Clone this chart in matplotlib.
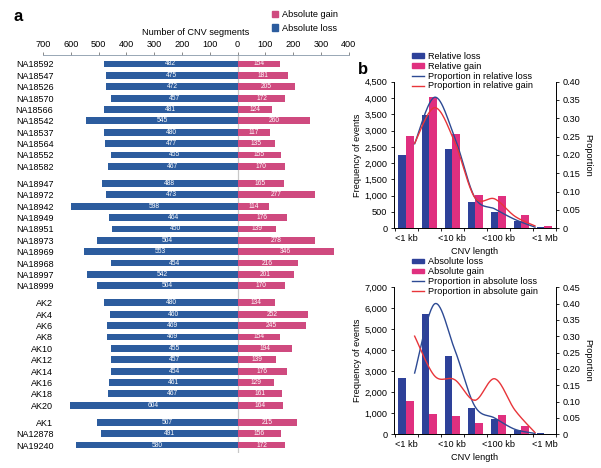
import numpy as np
import matplotlib
matplotlib.use('Agg')
import matplotlib.pyplot as plt
from matplotlib.patches import Patch
from matplotlib.lines import Line2D
from matplotlib.ticker import FuncFormatter

plt.rcParams['font.family'] = ['Liberation Sans', 'DejaVu Sans']
plt.rcParams['font.size'] = 6.3

# ---- panel a data ----
groups = [
    ['NA18592', 'NA18547', 'NA18526', 'NA18570', 'NA18566',
     'NA18542', 'NA18537', 'NA18564', 'NA18552', 'NA18582'],
    ['NA18947', 'NA18972', 'NA18942', 'NA18949', 'NA18951',
     'NA18973', 'NA18969', 'NA18968', 'NA18997', 'NA18999'],
    ['AK2', 'AK4', 'AK6', 'AK8', 'AK10', 'AK12', 'AK14', 'AK16', 'AK18', 'AK20'],
    ['AK1', 'NA12878', 'NA19240'],
]
abs_loss = [482, 475, 472, 457, 481, 545, 480, 477, 455, 467,
            488, 473, 598, 464, 450, 504, 553, 454, 542, 504,
            480, 460, 469, 469, 455, 457, 454, 461, 467, 604,
            507, 491, 580]
abs_gain = [154, 181, 205, 172, 124, 260, 117, 135, 155, 170,
            165, 277, 114, 176, 139, 278, 346, 216, 201, 170,
            134, 252, 245, 154, 194, 139, 176, 129, 161, 164,
            215, 156, 172]

# ---- panel b data ----
len_bins = ['<1 kb', '', '<10 kb', '', '<100 kb', '', '<1 Mb']
rel_loss = [2250, 3490, 2420, 820, 515, 235, 30]
rel_gain = [2840, 4030, 2880, 1030, 980, 400, 80]
abs_loss_len = [2700, 5750, 3730, 1240, 715, 220, 40]
abs_gain_len = [1600, 950, 890, 555, 905, 395, 30]

c_loss_a = '#2c5c9e'
c_gain_a = '#cf4a7f'
c_loss_b = '#2e4199'
c_gain_b = '#e0307f'
c_line_loss = '#2d4a94'
c_line_gain = '#e8353a'


def catmull(x, y, n=30):
    pts = np.column_stack([x, y]).astype(float)
    out = []
    for i in range(len(pts) - 1):
        p0 = pts[i - 1] if i > 0 else pts[i]
        p1 = pts[i]
        p2 = pts[i + 1]
        p3 = pts[i + 2] if i + 2 < len(pts) else pts[i + 1]
        t = np.linspace(0, 1, n)[:, None]
        seg = 0.5 * (2 * p1 + (-p0 + p2) * t + (2 * p0 - 5 * p1 + 4 * p2 - p3) * t ** 2
                     + (-p0 + 3 * p1 - 3 * p2 + p3) * t ** 3)
        out.append(seg)
    out = np.vstack(out)
    return out[:, 0], out[:, 1]


fig = plt.figure(figsize=(6.01, 4.68), dpi=100)

# ---- panel a ----
names = [n for g in groups for n in g]
ypos = []
for gi, g in enumerate(groups):
    start = sum(len(gg) for gg in groups[:gi]) + gi * 0.5
    ypos += [start + i for i in range(len(g))]
ypos = np.array(ypos)

ax = fig.add_axes([0.0715, 0.032, 0.509, 0.8505])
loss = np.array(abs_loss)
gain = np.array(abs_gain)
ax.barh(ypos, -loss, height=0.6, color=c_loss_a)
ax.barh(ypos, gain, height=0.6, color=c_gain_a)
for y, l, g in zip(ypos, loss, gain):
    ax.text(-l / 2, y, str(l), color='white', fontsize=4.8, ha='center', va='center')
    ax.text(g / 2, y, str(g), color='white', fontsize=4.8, ha='center', va='center')
ax.axvline(0, color='#c8c8c8', lw=0.9, zorder=0)
ax.set_xlim(-700, 400)
ax.set_ylim(ypos[-1] + 0.7, -0.79)
ax.set_yticks(ypos)
ax.set_yticklabels(names, fontsize=6.5)
ax.tick_params(axis='y', length=0, pad=-7.5)
ax.xaxis.tick_top()
ax.xaxis.set_label_position('top')
ax.set_xticks(np.arange(-700, 401, 100))
ax.set_xticklabels([str(abs(v)) for v in range(-700, 401, 100)], fontsize=6.6)
ax.tick_params(axis='x', length=2.5, width=0.6, color='#777777', pad=2)
ax.set_xlabel('Number of CNV segments', labelpad=3.5, fontsize=6.6)
for s in ['left', 'right', 'bottom']:
    ax.spines[s].set_visible(False)
ax.spines['top'].set_color('#8899aa')
ax.spines['top'].set_linewidth(0.6)

fig.legend(handles=[Patch(color=c_gain_a, label='Absolute gain'),
                    Patch(color=c_loss_a, label='Absolute loss')],
           loc='upper left', bbox_to_anchor=(0.452, 0.978), frameon=False,
           handlelength=0.7, handleheight=0.7, handletextpad=0.4,
           labelspacing=0.5, borderaxespad=0, borderpad=0, fontsize=6.6)

fig.text(0.022, 0.965, 'a', fontsize=12, fontweight='bold', ha='left', va='center')
fig.text(0.596, 0.852, 'b', fontsize=12, fontweight='bold', ha='left', va='center')


def panel_b(rect, lossv, gainv, ymax, ystep, pmax, labels):
    axb = fig.add_axes(rect)
    x = np.arange(len(len_bins))
    w = 0.33
    axb.bar(x - w / 2, lossv, width=w, color=c_loss_b)
    axb.bar(x + w / 2, gainv, width=w, color=c_gain_b)
    axb.set_xlim(-0.54, 6.46)
    axb.set_ylim(0, ymax)
    axb.set_yticks(np.arange(0, ymax + 1, ystep))
    axb.yaxis.set_major_formatter(FuncFormatter(lambda v, _: f'{v:,.0f}'))
    axb.set_xticks(x)
    axb.set_xticklabels(len_bins, fontsize=6.6)
    axb.set_xticks(np.arange(-0.5, 6.6, 1), minor=True)
    axb.tick_params(axis='x', which='major', length=0, pad=4)
    axb.tick_params(axis='x', which='minor', length=2.5, width=0.6)
    axb.tick_params(axis='y', length=2.5, width=0.6, pad=2, labelsize=6.6)
    axb.spines['top'].set_visible(False)
    for s in ['left', 'right', 'bottom']:
        axb.spines[s].set_linewidth(0.6)
    axb.set_ylabel('Frequency of events', labelpad=1.5, fontsize=6.6)
    axb.set_xlabel('CNV length', labelpad=3, fontsize=6.6)

    ax2 = axb.twinx()
    lx = np.arange(len(len_bins)) * 0.87 + 0.37
    pl = np.array(lossv) / np.sum(lossv)
    pg = np.array(gainv) / np.sum(gainv)
    sx, sy = catmull(lx, pl)
    ax2.plot(sx, sy, color=c_line_loss, lw=1.0)
    sx, sy = catmull(lx, pg)
    ax2.plot(sx, sy, color=c_line_gain, lw=1.0)
    ax2.set_ylim(0, pmax)
    ax2.set_yticks(np.arange(0, pmax + 0.001, 0.05))
    ax2.yaxis.set_major_formatter(FuncFormatter(lambda v, _: '0' if v == 0 else f'{v:.2f}'))
    ax2.tick_params(axis='y', length=2.5, width=0.6, pad=2, labelsize=6.6)
    ax2.spines['top'].set_visible(False)
    for s in ['left', 'right', 'bottom']:
        ax2.spines[s].set_linewidth(0.6)
    ax2.set_ylabel('Proportion', rotation=270, labelpad=9, fontsize=6.6)

    handles = [Patch(color=c_loss_b, label=labels[0]),
               Patch(color=c_gain_b, label=labels[1]),
               Line2D([], [], color=c_line_loss, lw=1.0, label=labels[2]),
               Line2D([], [], color=c_line_gain, lw=1.0, label=labels[3])]
    x0 = rect[0] + 0.03
    y0 = rect[1] + rect[3] + 0.064
    fig.legend(handles=handles, loc='upper left', bbox_to_anchor=(x0, y0),
               frameon=False, handlelength=1.3, handleheight=0.35,
               handletextpad=0.5, labelspacing=0.1, borderaxespad=0,
               borderpad=0, fontsize=6.6)


panel_b([0.655, 0.5122, 0.270, 0.3133], rel_loss, rel_gain, 4500, 500, 0.40,
        ['Relative loss', 'Relative gain',
         'Proportion in relative loss', 'Proportion in relative gain'])
panel_b([0.655, 0.0720, 0.270, 0.3141], abs_loss_len, abs_gain_len, 7000, 1000, 0.45,
        ['Absolute loss', 'Absolute gain',
         'Proportion in absolute loss', 'Proportion in absolute gain'])

fig.savefig('out.png', dpi=100)
